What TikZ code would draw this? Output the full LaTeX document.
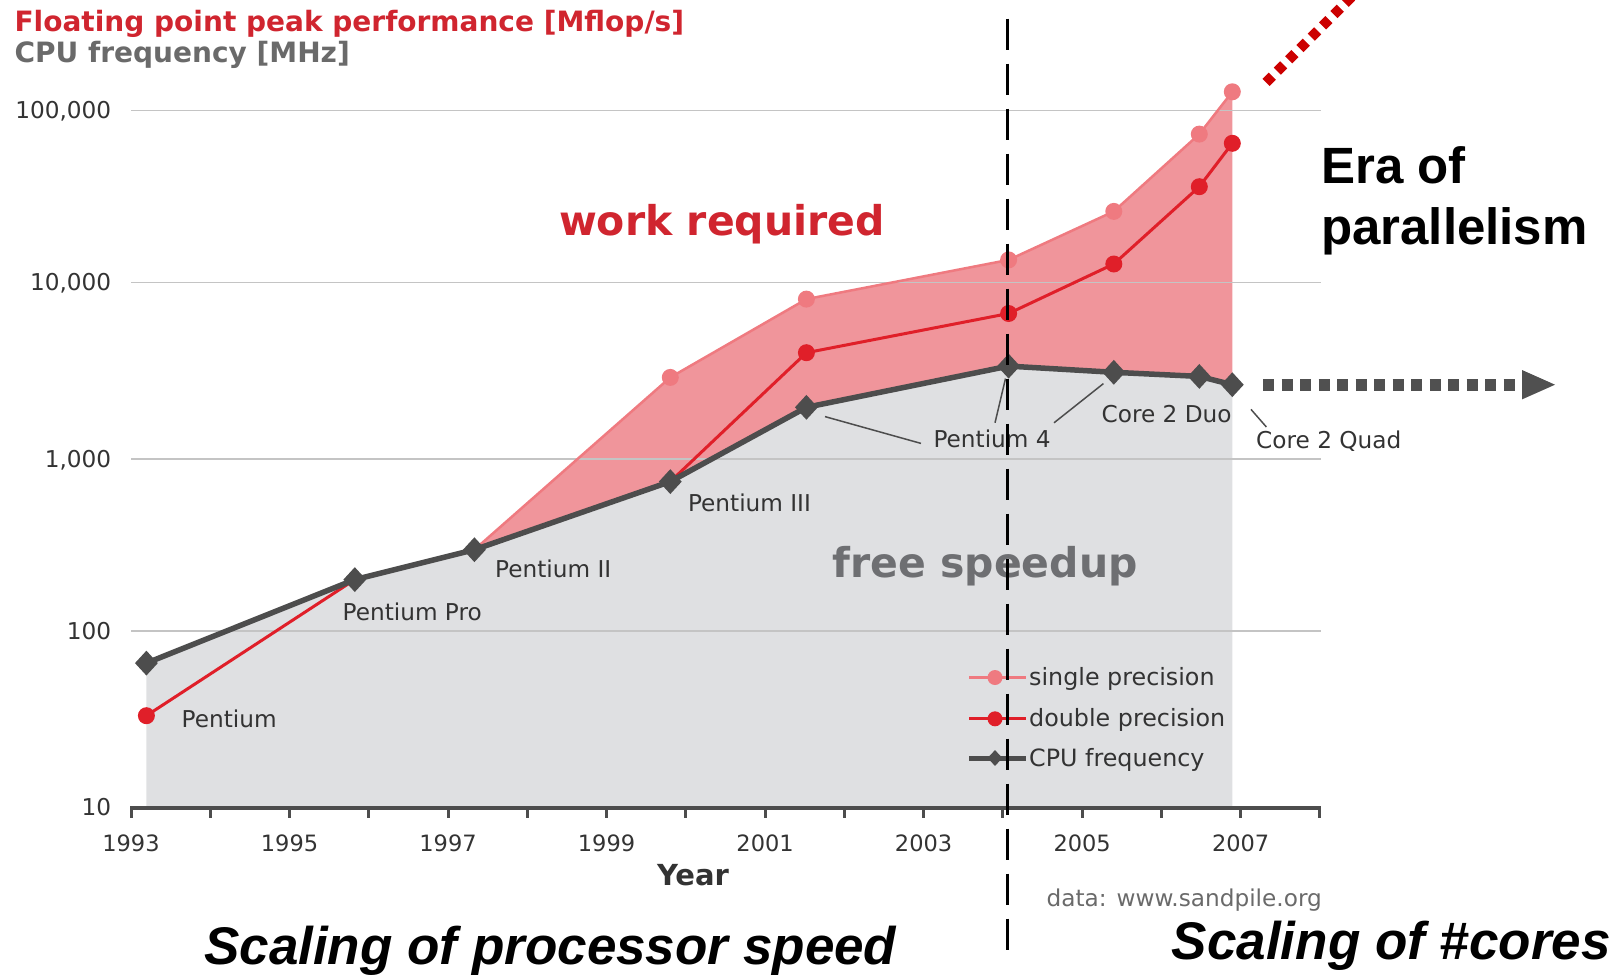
\documentclass[tikz,border=0pt]{standalone}
\usepackage{fontspec}
\setmainfont{DejaVu Sans}
\newfontfamily\annfont{Liberation Sans}
\usetikzlibrary{shapes.geometric}

\definecolor{greyfill}{HTML}{DFE0E2}
\definecolor{pinkfill}{HTML}{F0959B}
\definecolor{pinkline}{HTML}{EF7A80}
\definecolor{redline}{HTML}{E01F29}
\definecolor{darkline}{HTML}{4D4D4D}
\definecolor{gridcol}{HTML}{C4C4C4}
\definecolor{labelcol}{HTML}{333333}
\definecolor{titlered}{HTML}{D0252F}
\definecolor{titlegray}{HTML}{6A6A6A}
\definecolor{freecol}{HTML}{6E6F72}
\definecolor{arrowred}{HTML}{CC0000}
\definecolor{arrowgray}{HTML}{505050}

\begin{document}
\begin{tikzpicture}[x=1pt,y=-1pt,
  small/.style={font=\fontsize{23.2}{27}\selectfont, text=labelcol, inner sep=0pt},
  ylab/.style={small, anchor=base east},
  xlab/.style={small, font=\fontsize{22.5}{26}\selectfont, anchor=base},
  chip/.style={small, anchor=base west},
  legtxt/.style={small, font=\fontsize{23.8}{27}\selectfont, anchor=base west},
  leader/.style={draw=darkline, line width=1.5pt},
  gridline/.style={draw=gridcol, line width=1.5pt},
  sdot/.style={circle, fill=pinkline, inner sep=0pt, minimum size=17pt},
  ddot/.style={circle, fill=redline, inner sep=0pt, minimum size=17pt},
  cdia/.style={diamond, fill=darkline, inner sep=0pt, minimum width=23pt, minimum height=25pt},
  sline/.style={draw=pinkline, line width=2.5pt, line join=round},
  dline/.style={draw=redline, line width=3pt, line join=round},
  cline/.style={draw=darkline, line width=5.5pt, line join=round},
  bigtxt/.style={font=\bfseries\fontsize{41}{47}\selectfont, inner sep=0pt, anchor=base},
  era/.style={font=\annfont\bfseries\fontsize{51}{58}\selectfont, inner sep=0pt, anchor=base west},
  scal/.style={font=\annfont\bfseries\itshape\fontsize{53}{60}\selectfont, inner sep=0pt},
  title/.style={font=\bfseries\fontsize{28}{32}\selectfont, inner sep=0pt, anchor=base west},
]
\useasboundingbox (0,0) rectangle (1617,975);

% data points: CPU frequency, double and single precision peak
\coordinate (c1) at (146.4,663.1);
\coordinate (c2) at (354.8,579.6);
\coordinate (c3) at (474.4,549.7);
\coordinate (c4) at (670.3,481.6);
\coordinate (c5) at (806.4,407.3);
\coordinate (c6) at (1008.6,366.1);
\coordinate (c7) at (1113.8,372.3);
\coordinate (c8) at (1199.3,376.4);
\coordinate (c9) at (1232.3,384.7);

\coordinate (d1) at (146.4,715.7);
\coordinate (d5) at (806.4,352.7);
\coordinate (d6) at (1008.6,313.5);
\coordinate (d7) at (1113.8,264.0);
\coordinate (d8) at (1199.3,186.7);
\coordinate (d9) at (1232.3,143.3);

\coordinate (s4) at (670.3,377.4);
\coordinate (s5) at (806.4,299.1);
\coordinate (s6) at (1008.6,259.9);
\coordinate (s7) at (1113.8,211.4);
\coordinate (s8) at (1199.3,134.1);
\coordinate (s9) at (1232.3,91.8);

\coordinate (base1) at (146.4,807.5);
\coordinate (base9) at (1232.3,807.5);

% area below the clock frequency
\fill[greyfill] (base1) -- (c1) -- (c2) -- (c3) -- (c4) -- (c5) -- (c6) -- (c7) -- (c8) -- (c9) -- (base9) -- cycle;
% area between frequency and single precision peak
\fill[pinkfill] (c3) -- (s4) -- (s5) -- (s6) -- (s7) -- (s8) -- (s9) -- (c9) -- (c8) -- (c7) -- (c6) -- (c5) -- (c4) -- cycle;

% horizontal grid
\foreach \gy in {110.3,282.6,458.9,631.1}
  \draw[gridline] (131,\gy) -- (1320.6,\gy);

% series
\draw[sline] (c3) -- (s4) -- (s5) -- (s6) -- (s7) -- (s8) -- (s9);
\draw[dline] (d1) -- (c2) -- (c3) -- (c4) -- (d5) -- (d6) -- (d7) -- (d8) -- (d9);
\draw[cline] (c1) -- (c2) -- (c3) -- (c4) -- (c5) -- (c6) -- (c7) -- (c8) -- (c9);

\foreach \p in {s4,s5,s6,s7,s8,s9} \node[sdot] at (\p) {};
\foreach \p in {d1,d5,d6,d7,d8,d9} \node[ddot] at (\p) {};
\foreach \p in {c1,c2,c3,c4,c5,c6,c7,c8,c9} \node[cdia] at (\p) {};

% x axis with yearly ticks
\draw[darkline, line width=4pt] (131,807.5) -- (1320.6,807.5);
\foreach \k in {0,...,15}
  \draw[darkline, line width=3pt] ({131+79.26*\k},806) -- ({131+79.26*\k},818);
\foreach \k/\yr in {0/1993,2/1995,4/1997,6/1999,8/2001,10/2003,12/2005,14/2007}
  \node[xlab] (yr\yr) at ({131+79.26*\k},851.5) {\yr};
\node[font=\bfseries\fontsize{29}{32}\selectfont, text=labelcol, inner sep=0pt, anchor=base] (yearlab) at (693,885) {Year};

% y axis labels
\node[ylab] (y5) at (111.4,118.3) {100,000};
\node[ylab] (y4) at (111.4,290.6) {10,000};
\node[ylab] (y3) at (111.4,467) {1,000};
\node[ylab] (y2) at (111.4,639) {100};
\node[ylab] (y1) at (111.4,815.5) {10};

% titles
\node[title, text=titlered] (t1) at (14.4,31) {Floating point peak performance [Mflop/s]};
\node[title, text=titlegray] (t2) at (14.4,62) {CPU frequency [MHz]};

% processor names
\node[chip] (pent) at (181.5,727) {Pentium};
\node[chip] (ppro) at (342.4,620.5) {Pentium Pro};
\node[chip] (p2) at (495,577.3) {Pentium II};
\node[chip] (p3) at (687.8,511.3) {Pentium III};
\node[chip] (p4) at (933.3,447.3) {Pentium 4};
\node[chip] (c2d) at (1101.4,422.6) {Core 2 Duo};
\node[chip] (c2q) at (1256,448.3) {Core 2 Quad};

\coordinate (l1a) at (825,416.6);  \coordinate (l1b) at (921,443.4);
\coordinate (l2a) at (995,422.8);  \coordinate (l2b) at (1005.5,378.5);
\coordinate (l3a) at (1054,422.8); \coordinate (l3b) at (1103.4,383.6);
\coordinate (l4a) at (1251,409.4); \coordinate (l4b) at (1266.4,427);
\draw[leader] (l1a) -- (l1b);
\draw[leader] (l2a) -- (l2b);
\draw[leader] (l3a) -- (l3b);
\draw[leader] (l4a) -- (l4b);

% region captions
\node[bigtxt, text=titlered] (work) at (722,235) {work required};
\node[bigtxt, text=freecol] (free) at (985,577.5) {free speedup};

% legend
\coordinate (lg1a) at (969.4,677.5); \coordinate (lg1b) at (1026,677.5);
\coordinate (lg2a) at (969.4,718.8); \coordinate (lg2b) at (1026,718.8);
\coordinate (lg3a) at (969.4,758);   \coordinate (lg3b) at (1026,758);
\draw[draw=pinkline, line width=3pt] (lg1a) -- (lg1b);
\draw[draw=redline, line width=3pt] (lg2a) -- (lg2b);
\draw[draw=darkline, line width=5pt] (lg3a) -- (lg3b);
\node[sdot, minimum size=15pt] at (995,677.5) {};
\node[ddot, minimum size=15pt] at (995,718.8) {};
\node[cdia, minimum width=15pt, minimum height=16pt] at (995,758) {};
\node[legtxt] (lgs) at (1029,685.5) {single precision};
\node[legtxt] (lgd) at (1029,726.8) {double precision};
\node[legtxt] (lgc) at (1029,766) {CPU frequency};

% source
\node[small, text=titlegray, anchor=base east] (src) at (1322,906) {data: www.sandpile.org};

% era boundary
\coordinate (vtop) at (1007.5,18.6);
\coordinate (vbot) at (1007.5,955);
\draw[black, line width=3.5pt, dash pattern=on 31pt off 14pt] (vtop) -- (vbot);

% trend arrows
\coordinate (ra) at (1266,82.5);
\coordinate (rb) at (1353,-4.5);
\draw[arrowred, line width=10pt, dash pattern=on 9pt off 7pt] (ra) -- (rb);

\coordinate (ga) at (1263,384.7);
\coordinate (gb) at (1522,384.7);
\coordinate (gtip) at (1555,384.7);
\draw[arrowgray, line width=12pt, dash pattern=on 11pt off 7.5pt] (ga) -- (gb);
\fill[arrowgray] (1522,370) -- (gtip) -- (1522,399.4) -- cycle;

% annotations
\node[era] (era1) at (1321,183.6) {Era of};
\node[era] (era2) at (1321,244.4) {parallelism};
\node[scal, anchor=base west] (sc1) at (204,964) {Scaling of processor speed};
\node[scal, anchor=base east] (sc2) at (1611,959) {Scaling of \#cores};
\end{tikzpicture}
\end{document}
